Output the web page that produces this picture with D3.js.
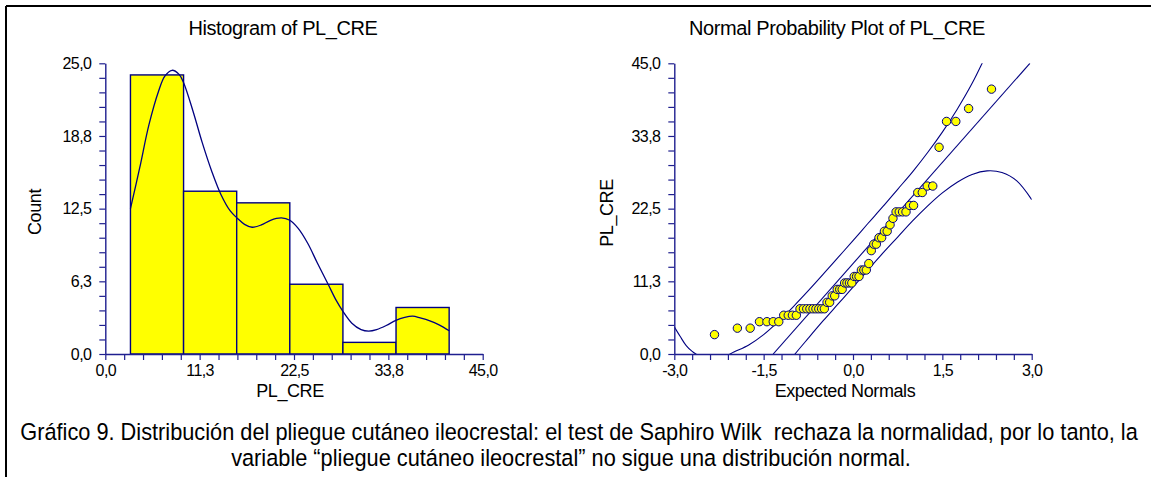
<!DOCTYPE html>
<html>
<head>
<meta charset="utf-8">
<script src="https://cdn.jsdelivr.net/npm/d3@7"></script>
<style>
  html, body { margin: 0; padding: 0; background: #fff; }
  svg { display: block; }
  text { font-family: "Liberation Sans", Arial, sans-serif; fill: #000; }
</style>
</head>
<body>
<svg id="chart" width="1151" height="477"></svg>
<script>
// ---------------- DATA ----------------
// Histogram of PL_CRE
const histEdges = [3, 9.333, 15.667, 22, 28.333, 34.667, 41];
const histCounts = [24, 14, 13, 6, 1, 4];
// Density curve (x value, count scale)
const densityX = [3.0, 4.1, 5.2, 6.35, 7.1, 7.95, 8.8, 9.35, 10.45, 11.55, 12.7, 13.8, 14.9, 15.7, 16.6, 17.5, 18.6, 19.7, 21.0, 22.0, 23.0, 24.15, 25.3, 26.6, 27.5, 28.35, 29.4, 30.5, 31.4, 32.35, 33.5, 34.65, 35.7, 36.65, 37.55, 38.7, 39.8, 41.0];
const densityY = [12.5, 16.0, 19.7, 22.6, 23.9, 24.4, 24.05, 23.3, 20.9, 18.2, 15.7, 13.7, 12.3, 11.7, 11.15, 10.9, 11.1, 11.5, 11.7, 11.5, 10.8, 9.5, 7.8, 5.95, 4.65, 3.65, 2.65, 2.1, 1.97, 2.1, 2.45, 2.9, 3.15, 3.25, 3.1, 2.85, 2.5, 2.0];
const histXTicks = [0, 11.25, 22.5, 33.75, 45];
const histXLabels = ["0,0", "11,3", "22,5", "33,8", "45,0"];
const histYTicks = [0, 6.25, 12.5, 18.75, 25];
const histYLabels = ["0,0", "6,3", "12,5", "18,8", "25,0"];

// Normal probability plot of PL_CRE
const plcreSorted = [3,4,4,5,5,5,5,6,6,6,6,7,7,7,7,7,7,7,7,7,8,8,9,9,10,10,10,11,11,11,11,12,12,12,13,13,13,14,16,17,17,18,18,19,19,20,21,22,22,22,22,23,23,25,25,26,26,32,36,36,38,41];
const expectedNormals = [-2.325,-1.941,-1.726,-1.570,-1.445,-1.339,-1.246,-1.163,-1.087,-1.017,-0.951,-0.890,-0.832,-0.776,-0.723,-0.671,-0.622,-0.574,-0.527,-0.481,-0.436,-0.392,-0.349,-0.307,-0.265,-0.223,-0.182,-0.141,-0.101,-0.060,-0.020,0.020,0.060,0.101,0.141,0.182,0.223,0.265,0.307,0.349,0.392,0.436,0.481,0.527,0.574,0.622,0.671,0.723,0.776,0.832,0.890,0.951,1.017,1.087,1.163,1.246,1.339,1.445,1.570,1.726,1.941,2.325];
const fitLineZ = [-1.34, 2.97];
const fitLineY = [0, 45];
const upperBandZ = [-3, -2.9, -2.8, -2.7, -2.6, -2.4, -2.2, -2.0, -1.75, -1.5, -1.25, -1.0, -0.75, -0.5, -0.25, 0, 0.25, 0.5, 0.75, 1.0, 1.25, 1.5, 1.75, 2.0, 2.25];
const upperBandY = [4.2, 2.7, 1.3, 0.4, -0.2, -0.9, -0.6, 0.3, 1.4, 3.0, 5.05, 7.35, 9.8, 12.35, 14.95, 17.55, 20.2, 22.8, 25.5, 28.2, 31.15, 34.35, 37.9, 41.9, 46.6];
const lowerBandZ = [-1.1, -1.0, -0.75, -0.5, -0.25, 0, 0.25, 0.5, 0.75, 1.0, 1.25, 1.5, 1.75, 2.0, 2.25, 2.5, 2.75, 3.0];
const lowerBandY = [-1.5, -0.3, 2.45, 5.15, 7.75, 10.35, 13.0, 15.6, 18.1, 20.6, 22.9, 24.95, 26.6, 27.8, 28.35, 28.1, 26.8, 23.9];
const normXTicks = [-3, -1.5, 0, 1.5, 3];
const normXLabels = ["-3,0", "-1,5", "0,0", "1,5", "3,0"];
const normYTicks = [0, 11.25, 22.5, 33.75, 45];
const normYLabels = ["0,0", "11,3", "22,5", "33,8", "45,0"];

const captionLines = [
  "Gráfico 9. Distribución del pliegue cutáneo ileocrestal: el test de Saphiro Wilk  rechaza la normalidad, por lo tanto, la",
  "variable “pliegue cutáneo ileocrestal” no sigue una distribución normal."
];

// ---------------- DRAW ----------------
const NAVY = "#000080";
const AXIS = "#1f1f8f";
const svg = d3.select("#chart");

// frame lines
svg.append("line").attr("x1", 6).attr("y1", 6).attr("x2", 1151).attr("y2", 6)
  .attr("stroke", "#000").attr("stroke-width", 2);
svg.append("line").attr("x1", 6).attr("y1", 6).attr("x2", 6).attr("y2", 477)
  .attr("stroke", "#000").attr("stroke-width", 2);

function minorTicks(domain, n) {
  const out = [];
  for (let i = 0; i <= n; i++) out.push(domain[0] + (domain[1] - domain[0]) * i / n);
  return out;
}
function labelFor(ticks, labels) {
  return v => {
    const i = ticks.findIndex(t => Math.abs(t - v) < 1e-6);
    return i >= 0 ? labels[i] : "";
  };
}
function styleAxis(g) {
  g.select(".domain").attr("stroke", AXIS).attr("stroke-width", 1.4);
  g.selectAll(".tick line").attr("stroke", AXIS).attr("stroke-width", 1.2);
  g.selectAll(".tick text").attr("fill", "#000")
    .style("font-family", '"Liberation Sans", Arial, sans-serif')
    .style("font-size", "16px").style("letter-spacing", "-0.6px");
}

function drawAxes(x, y, xTicks, xLabels, yTicks, yLabels) {
  const gx = svg.append("g").attr("transform", `translate(0,${y.range()[0]})`)
    .call(d3.axisBottom(x).tickValues(minorTicks(x.domain(), 20))
      .tickSize(6).tickSizeOuter(0).tickPadding(5).tickFormat(labelFor(xTicks, xLabels)));
  styleAxis(gx);
  const gy = svg.append("g").attr("transform", `translate(${x.range()[0]},0)`)
    .call(d3.axisLeft(y).tickValues(minorTicks(y.domain(), 20))
      .tickSize(6).tickSizeOuter(0).tickPadding(8).tickFormat(labelFor(yTicks, yLabels)));
  styleAxis(gy);
}

function title(x, y, txt, size) {
  svg.append("text").attr("x", x).attr("y", y).attr("text-anchor", "middle")
    .style("font-size", size + "px").style("letter-spacing", "-0.4px").text(txt);
}

// ---- Histogram panel ----
const xH = d3.scaleLinear().domain([0, 45]).range([105.3, 482.7]);
const yH = d3.scaleLinear().domain([0, 25]).range([354, 63.3]);

const bins = histCounts.map((c, i) => ({ x0: histEdges[i], x1: histEdges[i + 1], c }));
svg.append("g").selectAll("rect").data(bins).join("rect")
  .attr("x", d => xH(d.x0)).attr("width", d => xH(d.x1) - xH(d.x0))
  .attr("y", d => yH(d.c)).attr("height", d => yH(0) - yH(d.c))
  .attr("fill", "#ffff00").attr("stroke", NAVY).attr("stroke-width", 1.4);

const dens = densityX.map((v, i) => [v, densityY[i]]);
svg.append("path").datum(dens)
  .attr("d", d3.line().x(d => xH(d[0])).y(d => yH(d[1])).curve(d3.curveCatmullRom.alpha(0.5)))
  .attr("fill", "none").attr("stroke", NAVY).attr("stroke-width", 1.3);

drawAxes(xH, yH, histXTicks, histXLabels, histYTicks, histYLabels);

title(283, 35, "Histogram of PL_CRE", 20);
svg.append("text").attr("x", 290).attr("y", 397).attr("text-anchor", "middle")
  .style("font-size", "18px").style("letter-spacing", "-0.4px").text("PL_CRE");
svg.append("text").attr("transform", "translate(41,212) rotate(-90)").attr("text-anchor", "middle")
  .style("font-size", "18px").style("letter-spacing", "-0.4px").text("Count");

// ---- Normal probability panel ----
const xN = d3.scaleLinear().domain([-3, 3]).range([674.3, 1031.7]);
const yN = d3.scaleLinear().domain([0, 45]).range([354, 63.3]);

svg.append("clipPath").attr("id", "clipN").append("rect")
  .attr("x", xN(-3)).attr("y", yN(45)).attr("width", xN(3) - xN(-3)).attr("height", yN(0) - yN(45));
const gN = svg.append("g").attr("clip-path", "url(#clipN)");
const lineN = d3.line().x(d => xN(d[0])).y(d => yN(d[1]));
const lineNc = d3.line().x(d => xN(d[0])).y(d => yN(d[1])).curve(d3.curveCatmullRom.alpha(0.5));

gN.append("path").datum(fitLineZ.map((z, i) => [z, fitLineY[i]]))
  .attr("d", lineN).attr("fill", "none").attr("stroke", NAVY).attr("stroke-width", 1.1);
gN.append("path").datum(upperBandZ.map((z, i) => [z, upperBandY[i]]))
  .attr("d", lineNc).attr("fill", "none").attr("stroke", NAVY).attr("stroke-width", 1.1);
gN.append("path").datum(lowerBandZ.map((z, i) => [z, lowerBandY[i]]))
  .attr("d", lineNc).attr("fill", "none").attr("stroke", NAVY).attr("stroke-width", 1.1);

drawAxes(xN, yN, normXTicks, normXLabels, normYTicks, normYLabels);

svg.append("g").selectAll("circle").data(plcreSorted.map((v, i) => [expectedNormals[i], v])).join("circle")
  .attr("cx", d => xN(d[0])).attr("cy", d => yN(d[1])).attr("r", 4.2)
  .attr("fill", "#ffff00").attr("stroke", NAVY).attr("stroke-width", 1);

title(837, 35, "Normal Probability Plot of PL_CRE", 20);
svg.append("text").attr("x", 845).attr("y", 397).attr("text-anchor", "middle")
  .style("font-size", "18px").style("letter-spacing", "-0.4px").text("Expected Normals");
svg.append("text").attr("transform", "translate(613,213) rotate(-90)").attr("text-anchor", "middle")
  .style("font-size", "18px").style("letter-spacing", "-0.4px").text("PL_CRE");

// ---- Caption (narrow face emulated by horizontal scaling) ----
const capSize = 23.5;
const cap1 = svg.append("g");
const c1 = cap1.append("text").attr("x", 0).attr("y", 0).attr("text-anchor", "middle")
  .attr("xml:space", "preserve").style("white-space", "pre")
  .style("font-size", capSize + "px").text(captionLines[0]);
const sx = 1118 / c1.node().getComputedTextLength();
cap1.attr("transform", `translate(579,440) scale(${sx},1)`);
svg.append("g").attr("transform", `translate(571,466) scale(${sx},1)`)
  .append("text").attr("text-anchor", "middle")
  .style("font-size", capSize + "px").text(captionLines[1]);
</script>
</body>
</html>
